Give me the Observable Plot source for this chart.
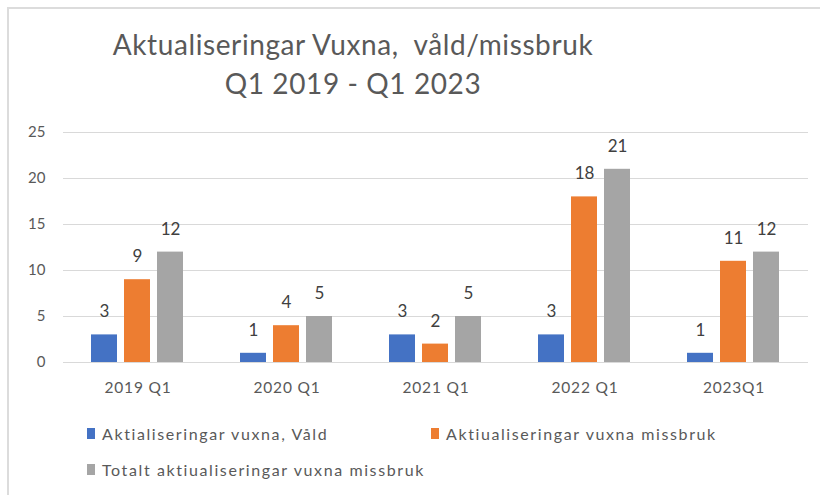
<!DOCTYPE html>
<html>
<head>
<meta charset="utf-8">
<script src="https://cdn.jsdelivr.net/npm/d3@7"></script>
<script src="https://cdn.jsdelivr.net/npm/@observablehq/plot@0.6"></script>
<style>
  body { margin: 0; background: #fff; font-family: Lato, "Open Sans", sans-serif; }
  #wrap { position: relative; width: 820px; height: 495px; overflow: hidden; }
  #frame { position: absolute; left: 7px; top: 7px; width: 830px; height: 500px; border-left: 2px solid #dcdcdc; border-top: 2px solid #dcdcdc; }
  .title { position: absolute; left: 0; width: 706px; text-align: center; color: #595959; font-size: 28px; letter-spacing: 0.6px; white-space: pre; }
  #chart { position: absolute; left: 0; top: 115px; }
  .leg { position: absolute; font-size: 16px; letter-spacing: 1.6px; color: #595959; white-space: nowrap; display: flex; align-items: center; }
  .sw { display: inline-block; width: 8px; height: 11px; margin-right: 7px; }
</style>
</head>
<body>
<div id="wrap">
  <div id="frame"></div>
  <div class="title" style="top:27px">Aktualiseringar Vuxna,  våld/missbruk</div>
  <div class="title" style="top:66px">Q1 2019 - Q1 2023</div>
  <div id="chart"></div>
  <div id="legend"></div>
</div>
<script>
const categories = ["2019 Q1", "2020 Q1", "2021 Q1", "2022 Q1", "2023Q1"];
const seriesNames = [
  "Aktialiseringar vuxna, Våld",
  "Aktiualiseringar vuxna missbruk",
  "Totalt aktiualiseringar vuxna missbruk"
];
const vald = [3, 1, 3, 3, 1];
const missbruk = [9, 4, 2, 18, 11];
const totalt = [12, 5, 5, 21, 12];
const colors = ["#4472C4", "#ED7D31", "#A5A5A5"];
const yTicks = [0, 5, 10, 15, 20, 25];

const seriesValues = [vald, missbruk, totalt];
const data = categories.flatMap((c, i) =>
  seriesNames.map((s, j) => ({cat: c, s, v: seriesValues[j][i]}))
);

const chart = Plot.plot({
  width: 820,
  height: 290,
  marginTop: 17,
  marginBottom: 43,
  marginLeft: 63,
  marginRight: 12,
  style: {fontFamily: "Lato, 'Open Sans', sans-serif", background: "transparent"},
  fx: {domain: categories, padding: 0, label: null, axis: null},
  x: {domain: seriesNames, axis: null, paddingInner: 0.21, paddingOuter: 0.86},
  y: {domain: [0, 25], axis: null},
  color: {domain: seriesNames, range: colors},
  marks: [
    Plot.ruleY(yTicks, {stroke: "#d9d9d9", strokeWidth: 1}),
    Plot.barY(data, {fx: "cat", x: "s", y: "v", fill: "s"}),
    Plot.text(data, {fx: "cat", x: "s", y: "v", text: d => String(d.v), dy: -23, fontSize: 17, fill: "#404040"}),
    Plot.axisY(yTicks, {tickSize: 0, tickPadding: 18, fontSize: 15, fill: "#595959", label: null}),
    Plot.axisFx({anchor: "bottom", tickSize: 0, tickPadding: 19, fontSize: 15.5, fill: "#595959", label: null})
  ]
});
d3.select(chart).selectAll('g[aria-label="fx-axis tick label"] text').style("letter-spacing", "0.8px");
document.getElementById("chart").appendChild(chart);

const legendPos = [
  {left: 87, top: 424},
  {left: 431, top: 424},
  {left: 87, top: 460}
];
const legend = document.getElementById("legend");
seriesNames.forEach((name, i) => {
  const el = document.createElement("div");
  el.className = "leg";
  el.style.left = legendPos[i].left + "px";
  el.style.top = legendPos[i].top + "px";
  el.innerHTML = `<span class="sw" style="background:${colors[i]}"></span>`;
  el.appendChild(document.createTextNode(name));
  legend.appendChild(el);
});
</script>
</body>
</html>
